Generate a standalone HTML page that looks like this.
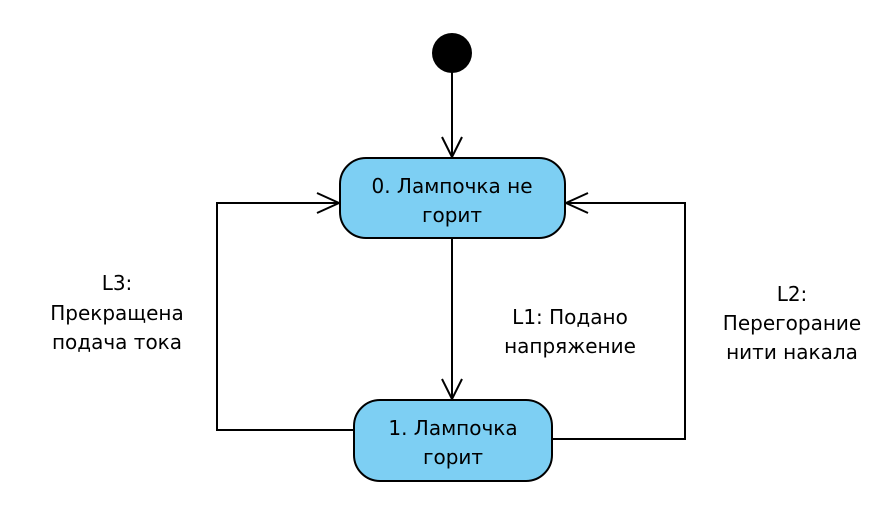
<!DOCTYPE html>
<html><head><meta charset="utf-8"><style>
html,body{margin:0;padding:0;background:#fff;}
</style></head><body>
<svg width="892" height="510" viewBox="0 0 892 510" xmlns="http://www.w3.org/2000/svg">
<g fill="none" stroke="#000" stroke-width="2">
<line x1="452" y1="70" x2="452" y2="157"/>
<polyline points="442,137 452,157 462,137"/>
<line x1="452" y1="238" x2="452" y2="399"/>
<polyline points="442,379 452,399 462,379"/>
<polyline points="354,430 217,430 217,203 339,203"/>
<polyline points="317,193 339,203 317,213"/>
<polyline points="552,439 685,439 685,203 566,203"/>
<polyline points="588,193 566,203 588,213"/>
</g>
<circle cx="452" cy="53" r="20" fill="#000"/>
<rect x="340" y="158" width="225" height="80" rx="26" fill="#7dcff3" stroke="#000" stroke-width="2"/>
<rect x="354" y="400" width="198" height="81" rx="26" fill="#7dcff3" stroke="#000" stroke-width="2"/>
<g text-anchor="middle" font-family="DejaVu Sans, Liberation Sans, sans-serif" font-size="20" fill="#000">
<text x="452" y="193">0. Лампочка не</text>
<text x="452" y="222">горит</text>
<text x="453" y="435">1. Лампочка</text>
<text x="453" y="464">горит</text>
<text x="117" y="290">L3:</text>
<text x="117" y="320">Прекращена</text>
<text x="117" y="349">подача тока</text>
<text x="570" y="324">L1: Подано</text>
<text x="570" y="353">напряжение</text>
<text x="792" y="301">L2:</text>
<text x="792" y="330">Перегорание</text>
<text x="792" y="359">нити накала</text>
</g>
</svg>
</body></html>
